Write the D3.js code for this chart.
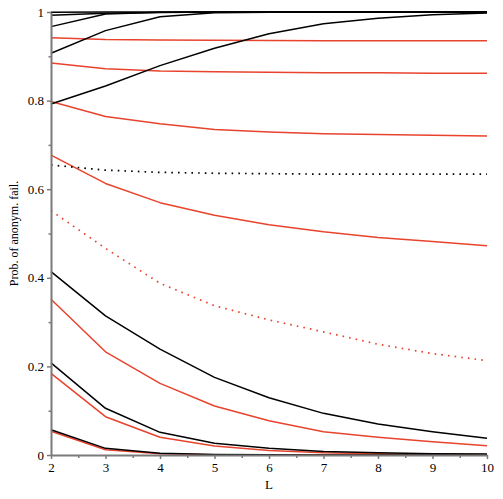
<!DOCTYPE html>
<html>
<head>
<meta charset="utf-8">
<script src="https://cdn.jsdelivr.net/npm/d3@7"></script>
<style>
  body { margin: 0; background: #fff; }
  text { font-family: "Liberation Serif", "Times New Roman", serif; fill: #000; }
</style>
</head>
<body>
<svg id="chart" width="503" height="499"></svg>
<script>
// L values on the x axis
const lValues = [2, 3, 4, 5, 6, 7, 8, 9, 10];

// black curves (rising towards 1)
const black1 = [0.9995, 1, 1, 1, 1, 1, 1, 1, 1];
const black2 = [0.9925, 0.997, 0.999, 1, 1, 1, 1, 1, 1];
const black3 = [0.967, 0.9955, 0.9995, 1, 1, 1, 1, 1, 1];
const black4 = [0.907, 0.958, 0.9895, 0.9985, 0.9995, 1, 1, 1, 1];
const black5 = [0.7925, 0.833, 0.879, 0.918, 0.951, 0.9735, 0.986, 0.994, 0.998];

// black falling curves
const blackA = [0.414, 0.314, 0.239, 0.1753, 0.1294, 0.094, 0.070, 0.0526, 0.0377];
const blackB = [0.208, 0.1054, 0.0512, 0.0264, 0.015, 0.008, 0.005, 0.003, 0.002];
const blackC = [0.057, 0.015, 0.004, 0.001, 0.0003, 0, 0, 0, 0];

// red curves
const red1 = [0.942, 0.938, 0.937, 0.936, 0.9355, 0.935, 0.935, 0.935, 0.935];
const red2 = [0.885, 0.872, 0.867, 0.865, 0.864, 0.863, 0.863, 0.862, 0.862];
const red3 = [0.798, 0.764, 0.748, 0.735, 0.729, 0.725, 0.7235, 0.7217, 0.720];
const red4 = [0.677, 0.613, 0.5696, 0.541, 0.520, 0.504, 0.491, 0.482, 0.4725];
const redA = [0.3514, 0.233, 0.1618, 0.1106, 0.0774, 0.0526, 0.040, 0.030, 0.021];
const redB = [0.1843, 0.0865, 0.040, 0.0203, 0.0102, 0.005, 0.003, 0.0015, 0.001];
const redC = [0.0535, 0.012, 0.003, 0.0007, 0.0002, 0, 0, 0, 0];

// dotted curves
const blackDotted = [0.6546, 0.643, 0.638, 0.636, 0.635, 0.634, 0.634, 0.634, 0.634];
const redDotted = [0.5515, 0.4665, 0.3875, 0.337, 0.305, 0.278, 0.250, 0.229, 0.213];

// axis ticks
const xTicks = [2, 3, 4, 5, 6, 7, 8, 9, 10];
const yTicks = [0, 0.2, 0.4, 0.6, 0.8, 1];
const yTickLabels = ["0", "0.2", "0.4", "0.6", "0.8", "1"];

const svg = d3.select("#chart");
const width = +svg.attr("width");
const height = +svg.attr("height");
const margin = { top: 12, right: 16, bottom: 44, left: 51 };

const RED = "#e8432d";

const series = [
    { values: redC, color: RED, dash: null },
    { values: redB, color: RED, dash: null },
    { values: redA, color: RED, dash: null },
    { values: red4, color: RED, dash: null },
    { values: red3, color: RED, dash: null },
    { values: red2, color: RED, dash: null },
    { values: red1, color: RED, dash: null },
    { values: redDotted, color: RED, dash: "1.6,5.1" },
    { values: blackDotted, color: "#000", dash: "1.6,5.1" },
    { values: blackC, color: "#000", dash: null },
    { values: blackB, color: "#000", dash: null },
    { values: blackA, color: "#000", dash: null },
    { values: black5, color: "#000", dash: null },
    { values: black4, color: "#000", dash: null },
    { values: black3, color: "#000", dash: null },
    { values: black2, color: "#000", dash: null },
    { values: black1, color: "#000", dash: null }
];

const x = d3.scaleLinear()
    .domain([2, 10])
    .range([margin.left, width - margin.right]);

const y = d3.scaleLinear()
    .domain([0, 1])
    .range([height - margin.bottom, margin.top]);

const line = d3.line()
    .x((d, i) => x(lValues[i]))
    .y(d => y(d));

// curves
svg.append("g")
    .selectAll("path")
    .data(series)
    .join("path")
    .attr("d", d => line(d.values))
    .attr("fill", "none")
    .attr("stroke", d => d.color)
    .attr("stroke-width", d => d.dash ? 1.7 : 1.5)
    .attr("stroke-dasharray", d => d.dash)
    .attr("stroke-linejoin", "round");

// minor ticks
const axisColor = "#7a7a7a";
svg.append("g")
    .attr("transform", `translate(0, ${height - margin.bottom})`)
    .call(d3.axisBottom(x).tickValues(d3.range(2.5, 10, 1)).tickSize(3).tickFormat(""))
    .call(g => g.select(".domain").remove())
    .call(g => g.selectAll("line").attr("stroke", axisColor).attr("stroke-width", 1.5));

svg.append("g")
    .attr("transform", `translate(${margin.left}, 0)`)
    .call(d3.axisLeft(y).tickValues(d3.range(0.1, 1, 0.2)).tickSize(2.5).tickFormat(""))
    .call(g => g.select(".domain").remove())
    .call(g => g.selectAll("line").attr("stroke", axisColor).attr("stroke-width", 1.5));

// X axis
svg.append("g")
    .attr("class", "x-axis")
    .attr("transform", `translate(0, ${height - margin.bottom})`)
    .call(d3.axisBottom(x).tickValues(xTicks).tickSize(4).tickSizeOuter(0).tickPadding(4).tickFormat(d3.format("d")))
    .call(g => g.select(".domain").attr("stroke", axisColor).attr("stroke-width", 2))
    .call(g => g.selectAll("line").attr("stroke", axisColor).attr("stroke-width", 1.5))
    .call(g => g.selectAll("text").attr("font-size", "13px").attr("font-family", "Liberation Serif"));

// Y axis
svg.append("g")
    .attr("class", "y-axis")
    .attr("transform", `translate(${margin.left}, 0)`)
    .call(d3.axisLeft(y).tickValues(yTicks).tickSize(4).tickSizeOuter(0).tickPadding(3)
        .tickFormat((d, i) => yTickLabels[i]))
    .call(g => g.select(".domain").attr("stroke", axisColor).attr("stroke-width", 2))
    .call(g => g.selectAll("line").attr("stroke", axisColor).attr("stroke-width", 1.5))
    .call(g => g.selectAll("text").attr("font-size", "13px").attr("font-family", "Liberation Serif"));

// axis titles
svg.append("text")
    .attr("x", x(6))
    .attr("y", 489)
    .attr("text-anchor", "middle")
    .style("font-size", "13px")
    .text("L");

svg.append("text")
    .attr("transform", "rotate(-90)")
    .attr("x", -(margin.top + height - margin.bottom) / 2)
    .attr("y", 18)
    .attr("text-anchor", "middle")
    .style("font-size", "12px")
    .text("Prob. of anonym. fail.");
</script>
</body>
</html>
